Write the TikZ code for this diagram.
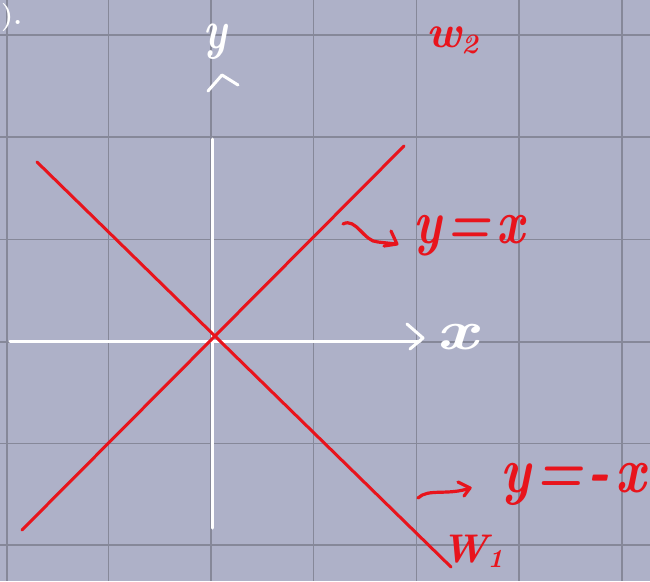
\documentclass[tikz,border=0pt]{standalone}
\usetikzlibrary{calc}
\definecolor{bgc}{HTML}{AEB1C8}
\definecolor{gridc}{HTML}{868899}
\definecolor{pen}{HTML}{E8141C}
\tikzset{
  gridline/.style={draw=gridc, line width=1.5pt},
  axis/.style={draw=white, line width=3pt, line cap=round, line join=round},
  redline/.style={draw=pen, line width=3pt, line cap=round},
  redpen/.style={draw=pen, line width=3.2pt, line cap=round, line join=round},
  whitelabel/.style={text=white, inner sep=0pt},
  redlabel/.style={text=pen, inner sep=0pt},
}
\newcommand{\hsz}[1]{\fontsize{#1}{#1}\selectfont\bfseries\itshape}
\begin{document}
\begin{tikzpicture}[x=1pt,y=-1pt]
\useasboundingbox (0,0) rectangle (650,581);
\fill[bgc] (0,0) rectangle (650,581);
\clip (0,0) rectangle (650,581);
% grid
\foreach \gx in {7,108.5,211,313.5,416.5,519,622}
  \draw[gridline] (\gx,0) -- (\gx,581);
\foreach \gy in {35,137,239.5,342,443.5,545}
  \draw[gridline] (0,\gy) -- (650,\gy);
% axes
\coordinate (xs) at (10,341);
\coordinate (xe) at (420,341);
\coordinate (ys) at (212,139);
\coordinate (ye) at (212,528);
\draw[axis] (xs) -- (xe);
\draw[axis] (ys) -- (ye);
\draw[axis] (407,324) -- (423,338) -- (410,349);
\draw[axis] (208,91) -- (222,75) -- (238,85);
% red lines
\coordinate (a1) at (22,530);
\coordinate (a2) at (404,146);
\coordinate (b1) at (37,162);
\coordinate (b2) at (451,567);
\draw[redline] (a1) -- (a2);
\draw[redline] (b1) -- (b2);
% labels
\node[whitelabel, font=\hsz{42}, yscale=1.3] (ylab) at (215,42) {y};
\node[whitelabel, font=\hsz{56}, xscale=1.3] (xlab) at (457,337) {x};
\node[whitelabel, font=\fontsize{28}{28}\selectfont\bfseries, anchor=west] (top) at (1,18) {).};
\node[redlabel, font=\hsz{50}, yscale=1.25] (eq1) at (469,236) {y\kern5pt=\kern5pt x};
\node[redlabel, font=\hsz{54}, yscale=1.2] (eq2) at (573,484) {y\kern5pt=\kern4pt-\kern5pt x};
\node[redlabel, font=\hsz{46}] (w2) at (452,40) {w\raisebox{-6pt}{\fontsize{28}{28}\selectfont 2}};
\node[redlabel, font=\hsz{40}] (w1) at (472,551) {W\raisebox{-5pt}{\fontsize{26}{26}\selectfont 1}};
% squiggle arrows
\draw[redpen] (343,224) .. controls (356,217) and (364,242) .. (378,242) -- (396,244);
\draw[redpen] (391,231) -- (397,244) -- (384,246);
\draw[redpen] (418,498) .. controls (428,488) and (448,496) .. (470,488);
\draw[redpen] (458,482) -- (470,488) -- (464,496);
\end{tikzpicture}
\end{document}
